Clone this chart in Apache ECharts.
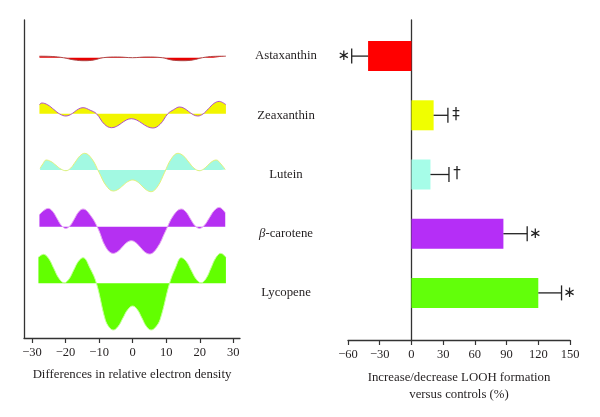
<!DOCTYPE html>
<html>
<head>
<meta charset="utf-8">
<script src="https://cdn.jsdelivr.net/npm/echarts@6/dist/echarts.min.js"></script>
<style>html,body{margin:0;padding:0;background:#fff}#c{width:600px;height:417px}</style>
</head>
<body>
<div id="c"></div>
<script>
// ---------- Data ----------
const categories = ['Astaxanthin', 'Zeaxanthin', 'Lutein', 'β-carotene', 'Lycopene'];
const loohValues = [-41, 21, 18, 87, 120];
const errorEnds = [-56.5, 34.5, 35.5, 109.5, 142];
const sigMarks = ['∗', '‡', '†', '∗', '∗'];
const leftTicks = [-30, -20, -10, 0, 10, 20, 30];
const rightTicks = [-60, -30, 0, 30, 60, 90, 120, 150];

// Electron density difference profiles (x: position, y: deviation from each profile's baseline)
const redX = [-27.8, -24, -20.7, -17.5, -14.3, -11.5, -8.8, -4.5, 0, 4, 8.8, 11.5, 15, 18, 20.8, 24, 27.8];
const redY = [1.5, 1.2, 0, -2.2, -3, -2.2, 0, 0.7, 0, 0.7, 0, -2.2, -3, -2.2, 0, 1.3, 1.5];
const yellowX = [-27.8, -27.1, -25.3, -23.5, -21.7, -19.9, -18.63, -17.35, -16.08, -14.8, -12.68, -10.8, -8.43, -6.3, -4.83, -3.35, -1.88, -0.4, 1.2, 2.8, 4.4, 6, 8.2, 10.5, 12.2, 14, 15.35, 16.7, 18.05, 19.4, 21, 22.6, 24.2, 25.8, 27.8];
const yellowY = [9, 10.7, 8.8, 4.2, -0.4, -2.3, -1.1, 1.85, 4.8, 6, 3.5, 0, -10.5, -14, -12.7, -9.5, -6.3, -5, -6.35, -9.65, -12.95, -14.3, -10.5, 0, 4, 6.7, 5.4, 2.2, -1.0, -2.3, -0.2, 5, 10.2, 12.3, 9];
const cyanX = [-27.6, -26.7, -25.8, -24.33, -22.85, -21.38, -19.9, -18.5, -17.1, -15.7, -14.3, -12.18, -10.05, -7.93, -5.8, -4.35, -2.9, -1.45, 0, 1.375, 2.75, 4.125, 5.5, 7.5, 9.5, 11.5, 13.5, 15.1, 16.7, 18.3, 19.9, 21.15, 22.4, 23.65, 24.9, 26.3, 27.6];
const cyanY = [1.7, 6.5, 10, 8.4, 4.65, 0.9, -0.7, 1.8, 8.0, 14.2, 16.7, 11.2, -2.15, -15.5, -21, -19.4, -15.5, -11.6, -10, -11.7, -15.85, -20.0, -21.7, -16.1, -2.5, 11.1, 16.7, 14.2, 8.0, 1.8, -0.7, 0.9, 4.65, 8.4, 10, 6, 0.5];
const purpleX = [-27.8, -25.2, -23.88, -22.55, -21.23, -19.9, -18.63, -17.35, -16.08, -14.8, -12.55, -10.3, -8.05, -5.8, -4.45, -3.1, -1.75, -0.4, 0.95, 2.3, 3.65, 5, 7.38, 9.75, 12.13, 14.5, 15.85, 17.2, 18.55, 19.9, 21.38, 22.85, 24.33, 25.8, 27.6];
const purpleY = [12, 18.3, 15.4, 8.3, 1.2, -1.7, 1.1, 8.0, 14.9, 17.7, 11.2, -2, -20.2, -26.7, -24.85, -20.35, -15.85, -14, -15.95, -20.65, -25.4, -27.3, -20.7, -4.8, 11.1, 17.7, 14.9, 8.0, 1.1, -1.7, 1.4, 8.8, 16.2, 19.3, 14];
const greenX = [-28.1, -26.6, -25.05, -23.5, -21.95, -20.4, -19.0, -17.6, -16.2, -14.8, -12.7, -10.8, -8.2, -7.0, -5.8, -4.35, -2.9, -1.45, 0, 1.375, 2.75, 4.125, 5.5, 6.8, 8.2, 11, 12.7, 14.5, 15.98, 17.45, 18.93, 20.4, 21.88, 23.35, 24.83, 26.3, 27.8];
const greenY = [26, 29, 24.8, 14.75, 4.7, 0.5, 4.2, 13.05, 21.9, 25.6, 15, 0, -36, -44, -46.7, -43.2, -34.7, -26.2, -22.7, -26.2, -34.7, -43.2, -46.7, -44, -36, 0, 15, 25.6, 21.9, 13.05, 4.2, 0.5, 4.8, 15.25, 25.7, 30, 26];

// ---------- Layout / style ----------
const baselines = [280.3, 224.3, 168, 111.3, 54.7];
const waveStyles = [
  {fill: '#e80000', line: '#b04848'},
  {fill: '#f2f500', line: '#b050c8'},
  {fill: '#a2f9e2', line: '#e4f27a'},
  {fill: '#b530f2', line: '#e6a8f2'},
  {fill: '#62ff00', line: '#c4ff9a'}
];
const barColors = ['#ff0000', '#f0ff00', '#a6fde8', '#b52ef7', '#62ff0a'];
const FONT = 'Liberation Serif';
const TXT = '#231f20';
const AX = '#333';

const waves = [[redX, redY], [yellowX, yellowY], [cyanX, cyanY], [purpleX, purpleY], [greenX, greenY]];
const minus = v => (v < 0 ? '\u2212' + Math.abs(v) : String(v));

const series = waves.map((w, k) => ({
  type: 'line',
  xAxisIndex: 0, yAxisIndex: 0,
  smooth: 0.4,
  symbol: 'none',
  silent: true,
  data: w[0].map((x, i) => [x, baselines[k] + w[1][i]]),
  lineStyle: {color: waveStyles[k].line, width: 1},
  areaStyle: {color: waveStyles[k].fill, opacity: 1, origin: baselines[k]},
  z: 2
}));

series.push({
  type: 'bar',
  xAxisIndex: 2, yAxisIndex: 2,
  barWidth: 30,
  data: loohValues.map((v, i) => ({value: v, itemStyle: {color: barColors[i]}})),
  z: 2
});

series.push({
  type: 'custom',
  xAxisIndex: 2, yAxisIndex: 2,
  encode: {x: [0, 1], y: 2},
  data: loohValues.map((v, i) => [v, errorEnds[i], i]),
  renderItem: function (params, api) {
    const i = params.dataIndex;
    const p0 = api.coord([api.value(0), api.value(2)]);
    const p1 = api.coord([api.value(1), api.value(2)]);
    const dir = api.value(1) < 0 ? -1 : 1;
    const st = {stroke: '#222', lineWidth: 1.3};
    return {
      type: 'group',
      children: [
        {type: 'line', shape: {x1: p0[0], y1: p0[1], x2: p1[0], y2: p1[1]}, style: st},
        {type: 'line', shape: {x1: p1[0], y1: p1[1] - 7.5, x2: p1[0], y2: p1[1] + 7.5}, style: st},
        {type: 'text', x: p1[0] + dir * 8, y: p1[1],
          style: {text: sigMarks[i], fill: '#222', font: '15px "DejaVu Sans"', align: 'center', verticalAlign: 'middle'}}
      ]
    };
  },
  z: 3
});

const chart = echarts.init(document.getElementById('c'), null, {renderer: 'canvas'});
chart.setOption({
  animation: false,
  backgroundColor: '#fff',
  textStyle: {fontFamily: FONT, color: TXT},
  grid: [
    {left: 24, top: 20, width: 216, height: 318},
    {left: 348, top: 20, width: 222, height: 320},
    {left: 348, top: 26.5, width: 222, height: 296}
  ],
  xAxis: [
    {
      type: 'value', gridIndex: 0, min: -32.4, max: 32,
      axisLine: {show: true, onZero: false, lineStyle: {color: AX, width: 1.3}},
      axisTick: {show: true, length: 5, customValues: leftTicks, lineStyle: {color: AX, width: 1.2}},
      axisLabel: {customValues: leftTicks, formatter: minus, color: TXT, fontFamily: FONT, fontSize: 12.5, margin: 8},
      splitLine: {show: false},
      name: 'Differences in relative electron density', nameLocation: 'middle', nameGap: 30,
      nameTextStyle: {color: TXT, fontFamily: FONT, fontSize: 12.8}
    },
    {
      type: 'value', gridIndex: 1, min: -60, max: 150, interval: 30,
      axisLine: {show: true, onZero: false, lineStyle: {color: AX, width: 1.3}},
      axisTick: {show: true, length: 5, lineStyle: {color: AX, width: 1.2}},
      axisLabel: {formatter: minus, color: TXT, fontFamily: FONT, fontSize: 12.5, margin: 8, customValues: rightTicks},
      splitLine: {show: false},
      name: 'Increase/decrease LOOH formation\nversus controls (%)', nameLocation: 'middle', nameGap: 29,
      nameTextStyle: {color: TXT, fontFamily: FONT, fontSize: 12.8, lineHeight: 17}
    },
    {
      type: 'value', gridIndex: 2, min: -60, max: 150, show: false
    }
  ],
  yAxis: [
    {
      type: 'value', gridIndex: 0, min: 0, max: 318,
      axisLine: {show: true, onZero: false, lineStyle: {color: AX, width: 1.3}},
      axisTick: {show: false}, axisLabel: {show: false}, splitLine: {show: false}
    },
    {
      type: 'value', gridIndex: 1, min: 0, max: 1,
      axisLine: {show: true, onZero: true, lineStyle: {color: AX, width: 1.3}},
      axisTick: {show: false}, axisLabel: {show: false}, splitLine: {show: false}
    },
    {
      type: 'category', gridIndex: 2, inverse: true, data: categories,
      axisLine: {show: false, onZero: false}, axisTick: {show: false}, splitLine: {show: false},
      axisLabel: {
        margin: 62, align: 'center', color: TXT, fontFamily: FONT, fontSize: 12.8,
        formatter: v => (v.charAt(0) === 'β' ? '{i|β}' + v.slice(1) : v),
        rich: {i: {fontStyle: 'italic', fontFamily: FONT, fontSize: 12.8, color: TXT}}
      }
    }
  ],
  series: series
});
</script>
</body>
</html>
